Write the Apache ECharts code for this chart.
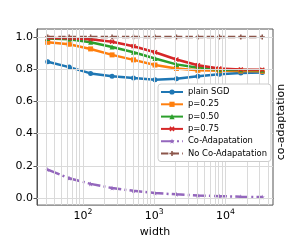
<!DOCTYPE html>
<html><head><meta charset="utf-8">
<script src="https://cdn.jsdelivr.net/npm/echarts@6/dist/echarts.min.js"></script>
<style>html,body{margin:0;padding:0;background:#fff}#c{width:303px;height:243px}</style>
</head><body><div id="c"></div>
<script>
const widths = [32, 64, 128, 256, 512, 1024, 2048, 4096, 8192, 16384, 32768];
const plainSGD = [0.846, 0.813, 0.774, 0.756, 0.745, 0.735, 0.741, 0.756, 0.768, 0.776, 0.780];
const p025 = [0.967, 0.955, 0.926, 0.889, 0.858, 0.826, 0.805, 0.793, 0.791, 0.789, 0.787];
const p050 = [0.990, 0.986, 0.967, 0.938, 0.905, 0.867, 0.830, 0.809, 0.797, 0.795, 0.793];
const p075 = [0.994, 0.992, 0.986, 0.971, 0.943, 0.905, 0.860, 0.825, 0.805, 0.799, 0.797];
const coAdaptation = [0.177, 0.123, 0.088, 0.062, 0.045, 0.031, 0.023, 0.016, 0.012, 0.008, 0.006];
const noCoAdaptation = [1.0, 1.0, 1.0, 1.0, 1.0, 1.0, 1.0, 1.0, 1.0, 1.0, 1.0];
const seriesNames = ['plain SGD', 'p=0.25', 'p=0.50', 'p=0.75', 'Co-Adapatation', 'No Co-Adapatation'];
const xTickExponents = [2, 3, 4];
const yTicks = [0, 0.2, 0.4, 0.6, 0.8, 1.0];
const xGridValues = [30,40,50,60,70,80,90,100,200,300,400,500,600,700,800,900,1000,2000,3000,4000,5000,6000,7000,8000,9000,10000,20000,30000,40000];

const FONT = 'DejaVu Sans';
const colors = ['#1f77b4', '#ff7f0e', '#2ca02c', '#d62728', '#9467bd', '#8c564b'];
const STAR = 'path://M0,-10 L2.35,-3.24 9.51,-3.09 3.8,1.24 5.88,8.09 0,4 -5.88,8.09 -3.8,1.24 -9.51,-3.09 -2.35,-3.24 Z';
const XMARK = 'path://M-10,-6 L-6,-10 0,-4 6,-10 10,-6 4,0 10,6 6,10 0,4 -6,10 -10,6 -4,0 Z';
const PLUS = 'path://M-3,-10 L3,-10 3,-3 10,-3 10,3 3,3 3,10 -3,10 -3,3 -10,3 -10,-3 -3,-3 Z';
const symbols = ['circle', 'rect', 'triangle', XMARK, STAR, PLUS];
const dashes = ['solid', 'solid', 'solid', 'solid', [12.8, 3.2, 2, 3.2], [7.4, 3.2]];
const values = [plainSGD, p025, p050, p075, coAdaptation, noCoAdaptation];

const lx = w => Math.log10(w);

const series = [{
  type: 'line', data: [], z: 1, silent: true,
  markLine: {
    silent: true, symbol: 'none', animation: false,
    label: {show: false},
    lineStyle: {color: '#dadada', width: 1, type: 'solid'},
    emphasis: {disabled: true},
    data: xGridValues.map(v => ({xAxis: lx(v)})).concat(yTicks.map(v => ({yAxis: v})))
  }
}];
values.forEach((arr, i) => {
  series.push({
    name: seriesNames[i], type: 'line', z: 2,
    data: widths.map((w, j) => [lx(w), arr[j]]),
    symbol: symbols[i], symbolSize: 5, showSymbol: true,
    lineStyle: {color: colors[i], width: 2.5, type: dashes[i]},
    itemStyle: {color: colors[i]},
    emphasis: {disabled: true}
  });
});

const chart = echarts.init(document.getElementById('c'), null, {renderer: 'canvas'});
chart.setOption({
  animation: false,
  backgroundColor: '#ffffff',
  textStyle: {fontFamily: FONT},
  grid: {left: 37, right: 30, top: 29, bottom: 27, show: true, borderColor: '#555', borderWidth: 1, backgroundColor: 'transparent'},
  xAxis: {
    type: 'value', min: 1.355, max: 4.666,
    axisLine: {show: true, lineStyle: {color: '#555', width: 1}},
    axisTick: {show: true, customValues: xTickExponents, length: 3.5, lineStyle: {color: '#555'}},
    axisLabel: {
      customValues: xTickExponents, margin: 3,
      formatter: v => '{b|10}{s|' + Math.round(v) + '}',
      rich: {
        b: {fontSize: 11, fontFamily: FONT, color: '#000', lineHeight: 14, verticalAlign: 'bottom'},
        s: {fontSize: 7.7, fontFamily: FONT, color: '#000', lineHeight: 14, verticalAlign: 'top'}
      }
    },
    splitLine: {show: false},
    name: 'width', nameLocation: 'middle', nameGap: 21,
    nameTextStyle: {fontSize: 11, fontFamily: FONT, color: '#000'}
  },
  yAxis: {
    type: 'value', min: -0.0437, max: 1.0497,
    axisLine: {show: true, lineStyle: {color: '#555', width: 1}},
    axisTick: {show: true, customValues: yTicks, length: 3.5, lineStyle: {color: '#555'}},
    axisLabel: {customValues: yTicks, margin: 4, fontSize: 11, fontFamily: FONT, color: '#000', formatter: v => v.toFixed(1)},
    splitLine: {show: false}
  },
  legend: {
    data: seriesNames, orient: 'vertical', left: 158, top: 84, z: 20,
    itemWidth: 22, itemHeight: 6.5, itemGap: 2.3,
    padding: [3, 4, 3, 2],
    backgroundColor: '#ffffff', borderColor: '#cccccc', borderWidth: 1, borderRadius: 3,
    textStyle: {fontSize: 8.4, fontFamily: FONT, color: '#000', lineHeight: 10},
    selectedMode: false
  },
  graphic: [{
    type: 'text', x: 281, y: 122, rotation: Math.PI / 2,
    style: {text: 'co-adaptation', fontSize: 11, fontFamily: FONT, fill: '#000', align: 'center', verticalAlign: 'middle'}
  }],
  series: series
});
</script></body></html>
